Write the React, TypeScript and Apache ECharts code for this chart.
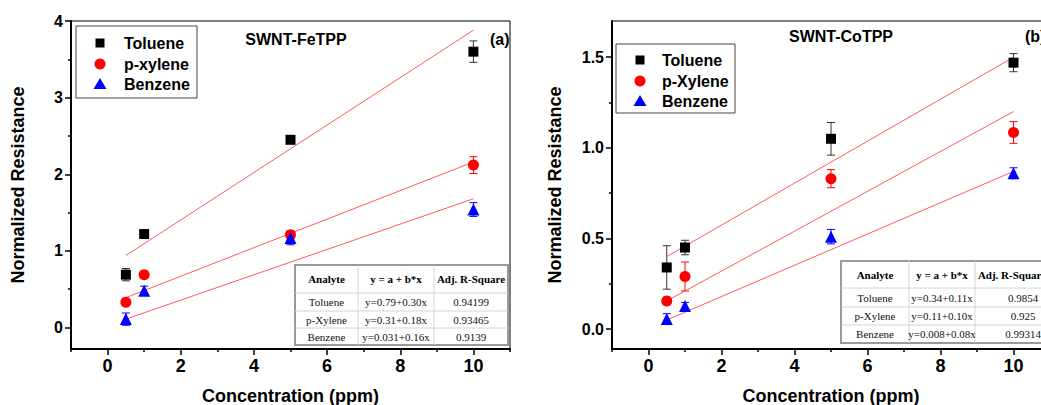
import React, { useEffect, useRef } from "react";
import * as echarts from "echarts";

// ---------- data ----------
const concentrations = [0.5, 1, 5, 10];
const fitX = [0.5, 10];

// Panel (a) SWNT-FeTPP
const feToluene = [0.69, 1.22, 2.45, 3.6];
const feTolueneErr = [0.08, 0.03, 0.03, 0.14];
const feXylene = [0.33, 0.69, 1.21, 2.12];
const feXyleneErr = [0.03, 0.04, 0.04, 0.11];
const feBenzene = [0.11, 0.48, 1.17, 1.54];
const feBenzeneErr = [0.08, 0.06, 0.09, 0.09];
const feFitToluene = [0.94, 3.88];
const feFitXylene = [0.39, 2.16];
const feFitBenzene = [0.11, 1.68];

// Panel (b) SWNT-CoTPP
const coToluene = [0.34, 0.45, 1.05, 1.47];
const coTolueneErr = [0.12, 0.04, 0.09, 0.05];
const coXylene = [0.155, 0.29, 0.83, 1.085];
const coXyleneErr = [0.02, 0.08, 0.05, 0.06];
const coBenzene = [0.055, 0.127, 0.51, 0.86];
const coBenzeneErr = [0.03, 0.02, 0.04, 0.03];
const coFitToluene = [0.4, 1.5];
const coFitXylene = [0.155, 1.2];
const coFitBenzene = [0.05, 0.87];

// tick values
const xMajorTicks = [0, 2, 4, 6, 8, 10];
const xMinorTicks = [-1, 1, 3, 5, 7, 9, 11];
const feYMajorTicks = [0, 1, 2, 3, 4];
const feYMinorTicks = [0.5, 1.5, 2.5, 3.5];
const coYMajorTicks = [0, 0.5, 1, 1.5];
const coYMinorTicks = [0.25, 0.75, 1.25];

// legends / tables
const feLegend = ["Toluene", "p-xylene", "Benzene"];
const coLegend = ["Toluene", "p-Xylene", "Benzene"];
const tableHeader = ["Analyte", "y = a + b*x", "Adj. R-Square"];
const analytes = ["Toluene", "p-Xylene", "Benzene"];
const feEquations = ["y=0.79+0.30x", "y=0.31+0.18x", "y=0.031+0.16x"];
const feR2 = ["0.94199", "0.93465", "0.9139"];
const coEquations = ["y=0.34+0.11x", "y=0.11+0.10x", "y=0.008+0.08x"];
const coR2 = ["0.9854", "0.925", "0.99314"];

// ---------- helpers ----------
const SANS = "'Liberation Sans', Arial, Helvetica, sans-serif";
const SERIF = "'Liberation Serif', 'Times New Roman', serif";
const BLACK = "#000000";
const RED = "#ff0000";
const BLUE = "#0000ff";
const FIT = "#ff5a5a";

const pts = (ys: number[]) => concentrations.map((x, i) => [x, ys[i]]);
const errPts = (ys: number[], es: number[]) => concentrations.map((x, i) => [x, ys[i], es[i]]);
const fitPts = (ys: number[]) => fitX.map((x, i) => [x, ys[i]]);

function errorSeries(data: number[][], color: string, ax: number) {
  return {
    type: "custom",
    xAxisIndex: ax,
    yAxisIndex: ax,
    z: 1,
    silent: true,
    data,
    renderItem: (_p: any, api: any) => {
      const x = api.value(0);
      const y = api.value(1);
      const e = api.value(2);
      const t = api.coord([x, y + e]);
      const b = api.coord([x, y - e]);
      const hw = 4;
      const st = { stroke: color, lineWidth: 1 };
      return {
        type: "group",
        children: [
          { type: "line", shape: { x1: t[0], y1: t[1], x2: b[0], y2: b[1] }, style: st },
          { type: "line", shape: { x1: t[0] - hw, y1: t[1], x2: t[0] + hw, y2: t[1] }, style: st },
          { type: "line", shape: { x1: b[0] - hw, y1: b[1], x2: b[0] + hw, y2: b[1] }, style: st },
        ],
      };
    },
  };
}

function scatterSeries(name: string, data: number[][], symbol: string, size: number, color: string, ax: number) {
  return {
    type: "scatter",
    name,
    xAxisIndex: ax,
    yAxisIndex: ax,
    symbol,
    symbolSize: size,
    itemStyle: { color, opacity: 1 },
    z: 3,
    data,
  };
}

function fitSeries(data: number[][], ax: number) {
  return {
    type: "line",
    xAxisIndex: ax,
    yAxisIndex: ax,
    symbol: "none",
    silent: true,
    z: 2,
    lineStyle: { color: FIT, width: 1 },
    data,
  };
}

function majorX(grid: number) {
  return {
    type: "value",
    gridIndex: grid,
    min: -1,
    max: 11,
    position: "bottom",
    name: "Concentration (ppm)",
    nameLocation: "middle",
    nameGap: 38,
    nameTextStyle: { fontSize: 18, fontWeight: "bold", fontFamily: SANS, color: BLACK },
    axisLine: { show: true, onZero: false, lineStyle: { color: BLACK, width: 2 } },
    axisTick: { show: true, inside: false, length: 6, customValues: xMajorTicks, lineStyle: { color: BLACK, width: 1.5 } },
    axisLabel: {
      show: true,
      customValues: xMajorTicks,
      margin: 8,
      fontSize: 18,
      fontWeight: "bold",
      fontFamily: SANS,
      color: BLACK,
    },
    splitLine: { show: false },
  };
}

function minorAxis(grid: number, min: number, max: number, ticks: number[], position: string) {
  return {
    type: "value",
    gridIndex: grid,
    min,
    max,
    position,
    axisLine: { show: false, onZero: false },
    axisTick: { show: true, inside: false, length: 3, customValues: ticks, lineStyle: { color: BLACK, width: 1.5 } },
    axisLabel: { show: false },
    splitLine: { show: false },
  };
}

function majorY(grid: number, min: number, max: number, ticks: number[], fmt: (v: number) => string, gap: number) {
  return {
    type: "value",
    gridIndex: grid,
    min,
    max,
    position: "left",
    name: "Normalized Resistance",
    nameLocation: "middle",
    nameGap: gap,
    nameTextStyle: { fontSize: 18, fontWeight: "bold", fontFamily: SANS, color: BLACK },
    axisLine: { show: true, onZero: false, lineStyle: { color: BLACK, width: 2 } },
    axisTick: { show: true, inside: false, length: 6, customValues: ticks, lineStyle: { color: BLACK, width: 1.5 } },
    axisLabel: {
      show: true,
      customValues: ticks,
      margin: 8,
      fontSize: 16,
      fontWeight: "bold",
      fontFamily: SANS,
      color: BLACK,
      formatter: fmt,
    },
    splitLine: { show: false },
  };
}

function legendGraphic(box: number[], markerX: number, textX: number, ys: number[], names: string[]) {
  const els: any[] = [
    {
      type: "rect",
      shape: { x: box[0], y: box[1], width: box[2] - box[0], height: box[3] - box[1] },
      style: { fill: "#fff", stroke: "#444", lineWidth: 1 },
      z: 10,
    },
    { type: "rect", shape: { x: markerX - 4.5, y: ys[0] - 4.5, width: 9, height: 9 }, style: { fill: BLACK }, z: 11 },
    { type: "circle", shape: { cx: markerX, cy: ys[1], r: 5.5 }, style: { fill: RED }, z: 11 },
    {
      type: "polygon",
      shape: { points: [[markerX, ys[2] - 6], [markerX - 6.5, ys[2] + 5], [markerX + 6.5, ys[2] + 5]] },
      style: { fill: BLUE },
      z: 11,
    },
  ];
  names.forEach((n, i) => {
    els.push({
      type: "text",
      x: textX,
      y: ys[i],
      z: 11,
      style: { text: n, fontSize: 16, fontWeight: "bold", fontFamily: SANS, fill: BLACK, align: "left", verticalAlign: "middle" },
    });
  });
  return els;
}

function tableGraphic(cols: number[], rows: number[], eqs: string[], r2: string[], headerCenters: number[], bodyCenters: number[]) {
  const els: any[] = [];
  const x0 = cols[0];
  const x1 = cols[cols.length - 1];
  const y0 = rows[0];
  const y1 = rows[rows.length - 1];
  els.push({
    type: "rect",
    shape: { x: x0, y: y0, width: x1 - x0, height: y1 - y0 },
    style: { fill: "#fff", stroke: "#9a9a9a", lineWidth: 2 },
    z: 10,
  });
  for (let i = 1; i < cols.length - 1; i++) {
    els.push({ type: "line", shape: { x1: cols[i], y1: y0, x2: cols[i], y2: y1 }, style: { stroke: "#d4d4d4", lineWidth: 1 }, z: 11 });
  }
  for (let j = 1; j < rows.length - 1; j++) {
    els.push({ type: "line", shape: { x1: x0, y1: rows[j], x2: x1, y2: rows[j] }, style: { stroke: "#d4d4d4", lineWidth: 1 }, z: 11 });
  }
  tableHeader.forEach((h, i) => {
    els.push({
      type: "text",
      x: headerCenters[i],
      y: (rows[0] + rows[1]) / 2,
      z: 12,
      style: { text: h, fontSize: 11, fontWeight: "bold", fontFamily: SERIF, fill: BLACK, align: "center", verticalAlign: "middle" },
    });
  });
  analytes.forEach((a, r) => {
    const cy = (rows[r + 1] + rows[r + 2]) / 2;
    [a, eqs[r], r2[r]].forEach((t, c) => {
      els.push({
        type: "text",
        x: bodyCenters[c],
        y: cy,
        z: 12,
        style: { text: t, fontSize: 11, fontFamily: SERIF, fill: "#111", align: "center", verticalAlign: "middle" },
      });
    });
  });
  return els;
}

function titleText(text: string, x: number, y: number, align: string) {
  return {
    type: "text",
    x,
    y,
    z: 12,
    style: { text, fontSize: 16, fontWeight: "bold", fontFamily: SANS, fill: BLACK, align, verticalAlign: "middle" },
  };
}

export default function App() {
  const ref = useRef<HTMLDivElement>(null);
  useEffect(() => {
    if (!ref.current) return;
    const chart = echarts.init(ref.current, null, { renderer: "svg" });
    const gridBase = {
      top: 21,
      height: 328,
      show: true,
      borderColor: BLACK,
      borderWidth: 1,
      backgroundColor: "transparent",
      containLabel: false,
      outerBoundsMode: "none",
    };
    const option: any = {
      animation: false,
      backgroundColor: "#ffffff",
      grid: [
        { ...gridBase, left: 71, width: 439 },
        { ...gridBase, left: 612, width: 438 },
      ],
      xAxis: [
        majorX(0),
        minorAxis(0, -1, 11, xMinorTicks, "bottom"),
        majorX(1),
        minorAxis(1, -1, 11, xMinorTicks, "bottom"),
      ],
      yAxis: [
        majorY(0, -0.28, 4, feYMajorTicks, (v: number) => String(v), 44),
        minorAxis(0, -0.28, 4, feYMinorTicks, "left"),
        majorY(1, -0.11, 1.7, coYMajorTicks, (v: number) => v.toFixed(1), 48),
        minorAxis(1, -0.11, 1.7, coYMinorTicks, "left"),
      ],
      series: [
        fitSeries(fitPts(feFitToluene), 0),
        fitSeries(fitPts(feFitXylene), 0),
        fitSeries(fitPts(feFitBenzene), 0),
        errorSeries(errPts(feToluene, feTolueneErr), "#333333", 0),
        errorSeries(errPts(feXylene, feXyleneErr), RED, 0),
        errorSeries(errPts(feBenzene, feBenzeneErr), BLUE, 0),
        scatterSeries("Toluene", pts(feToluene), "rect", 10, BLACK, 0),
        scatterSeries("p-xylene", pts(feXylene), "circle", 11, RED, 0),
        scatterSeries("Benzene", pts(feBenzene), "triangle", 12, BLUE, 0),

        fitSeries(fitPts(coFitToluene), 2),
        fitSeries(fitPts(coFitXylene), 2),
        fitSeries(fitPts(coFitBenzene), 2),
        errorSeries(errPts(coToluene, coTolueneErr), "#333333", 2),
        errorSeries(errPts(coXylene, coXyleneErr), RED, 2),
        errorSeries(errPts(coBenzene, coBenzeneErr), BLUE, 2),
        scatterSeries("Toluene", pts(coToluene), "rect", 10, BLACK, 2),
        scatterSeries("p-Xylene", pts(coXylene), "circle", 11, RED, 2),
        scatterSeries("Benzene", pts(coBenzene), "triangle", 12, BLUE, 2),
      ],
      graphic: [
        ...legendGraphic([76, 26, 197, 98], 100, 124, [43, 64, 84], feLegend),
        ...legendGraphic([616, 44, 735, 113], 640, 662, [60, 81, 101], coLegend),
        ...tableGraphic([295, 358, 434, 508], [265, 293, 311, 328, 345], feEquations, feR2, [326.5, 396, 471], [326.5, 396, 471]),
        ...tableGraphic([841, 909, 975, 1060], [261, 288, 307, 325, 343], coEquations, coR2, [875, 942, 1012], [875, 942, 1023]),
        titleText("SWNT-FeTPP", 296, 39, "center"),
        titleText("(a)", 490, 39, "left"),
        titleText("SWNT-CoTPP", 841, 36, "center"),
        titleText("(b)", 1025, 36, "left"),
      ],
    };
    chart.setOption(option);
    return () => chart.dispose();
  }, []);
  return (
    <div style={{ position: "absolute", left: 0, top: 0, width: 1041, height: 405, overflow: "hidden", background: "#fff" }}>
      <div ref={ref} style={{ width: 1041, height: 405 }} />
    </div>
  );
}
